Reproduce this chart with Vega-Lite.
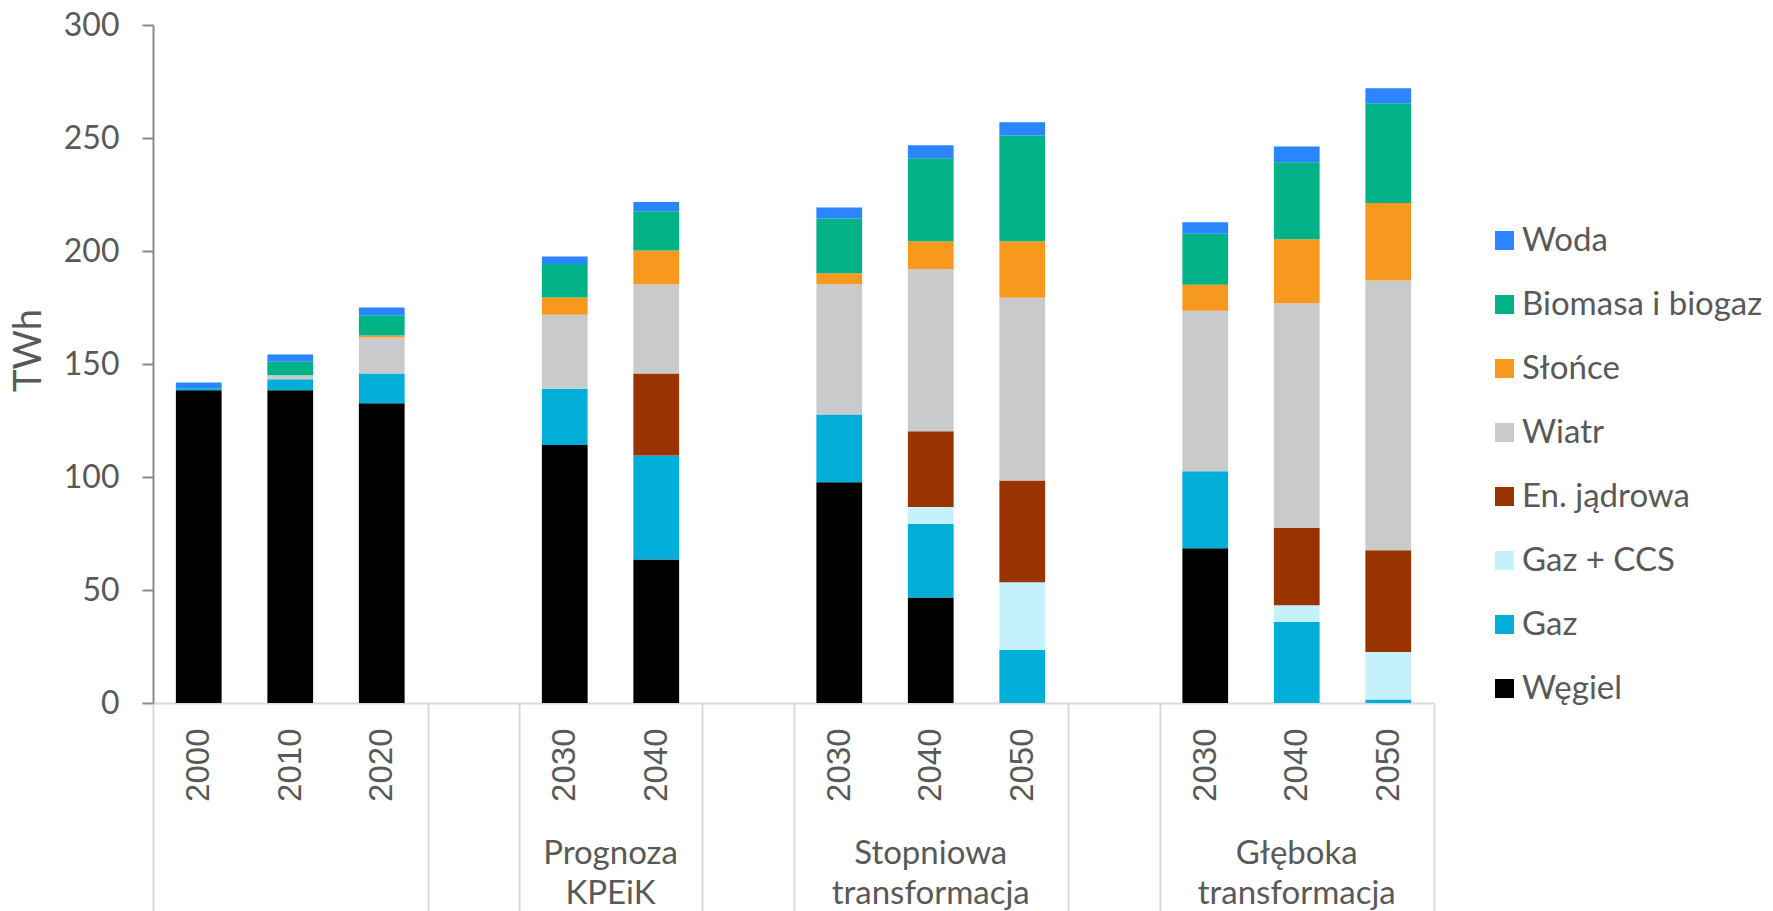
{
  "$schema": "https://vega.github.io/schema/vega-lite/v6.json",
  "width": 1281,
  "height": 678,
  "autosize": {"type": "none"},
  "padding": {"left": 153, "top": 25, "right": 339, "bottom": 208},
  "background": "white",
  "config": {
    "view": {"stroke": null},
    "font": "Lato",
    "axis": {"labelFont": "Lato", "titleFont": "Lato", "labelColor": "#595959", "titleColor": "#595959", "grid": false}
  },
  "layer": [
    {
      "data": {"values": [
        {"key": "a2000", "src": "Węgiel", "v": 138.4},
        {"key": "a2000", "src": "Gaz", "v": 0.9},
        {"key": "a2000", "src": "Woda", "v": 2.5},
        {"key": "a2010", "src": "Węgiel", "v": 138.4},
        {"key": "a2010", "src": "Gaz", "v": 4.9},
        {"key": "a2010", "src": "Wiatr", "v": 1.7},
        {"key": "a2010", "src": "Biomasa i biogaz", "v": 6.0},
        {"key": "a2010", "src": "Woda", "v": 3.2},
        {"key": "a2020", "src": "Węgiel", "v": 132.6},
        {"key": "a2020", "src": "Gaz", "v": 13.2},
        {"key": "a2020", "src": "Wiatr", "v": 15.9},
        {"key": "a2020", "src": "Słońce", "v": 0.9},
        {"key": "a2020", "src": "Biomasa i biogaz", "v": 9.0},
        {"key": "a2020", "src": "Woda", "v": 3.4},
        {"key": "b2030", "src": "Węgiel", "v": 114.2},
        {"key": "b2030", "src": "Gaz", "v": 24.9},
        {"key": "b2030", "src": "Wiatr", "v": 32.7},
        {"key": "b2030", "src": "Słońce", "v": 7.6},
        {"key": "b2030", "src": "Biomasa i biogaz", "v": 14.9},
        {"key": "b2030", "src": "Woda", "v": 3.3},
        {"key": "b2040", "src": "Węgiel", "v": 63.5},
        {"key": "b2040", "src": "Gaz", "v": 46.0},
        {"key": "b2040", "src": "En. jądrowa", "v": 36.3},
        {"key": "b2040", "src": "Wiatr", "v": 39.4},
        {"key": "b2040", "src": "Słońce", "v": 15.0},
        {"key": "b2040", "src": "Biomasa i biogaz", "v": 17.4},
        {"key": "b2040", "src": "Woda", "v": 4.1},
        {"key": "c2030", "src": "Węgiel", "v": 97.7},
        {"key": "c2030", "src": "Gaz", "v": 29.9},
        {"key": "c2030", "src": "Wiatr", "v": 57.7},
        {"key": "c2030", "src": "Słońce", "v": 4.9},
        {"key": "c2030", "src": "Biomasa i biogaz", "v": 24.2},
        {"key": "c2030", "src": "Woda", "v": 4.9},
        {"key": "c2040", "src": "Węgiel", "v": 46.7},
        {"key": "c2040", "src": "Gaz", "v": 32.6},
        {"key": "c2040", "src": "Gaz + CCS", "v": 7.4},
        {"key": "c2040", "src": "En. jądrowa", "v": 33.5},
        {"key": "c2040", "src": "Wiatr", "v": 71.8},
        {"key": "c2040", "src": "Słońce", "v": 12.3},
        {"key": "c2040", "src": "Biomasa i biogaz", "v": 36.7},
        {"key": "c2040", "src": "Woda", "v": 5.8},
        {"key": "c2050", "src": "Gaz", "v": 23.4},
        {"key": "c2050", "src": "Gaz + CCS", "v": 30.0},
        {"key": "c2050", "src": "En. jądrowa", "v": 45.1},
        {"key": "c2050", "src": "Wiatr", "v": 80.8},
        {"key": "c2050", "src": "Słońce", "v": 25.0},
        {"key": "c2050", "src": "Biomasa i biogaz", "v": 46.8},
        {"key": "c2050", "src": "Woda", "v": 5.9},
        {"key": "d2030", "src": "Węgiel", "v": 68.5},
        {"key": "d2030", "src": "Gaz", "v": 34.0},
        {"key": "d2030", "src": "Wiatr", "v": 71.1},
        {"key": "d2030", "src": "Słońce", "v": 11.5},
        {"key": "d2030", "src": "Biomasa i biogaz", "v": 22.5},
        {"key": "d2030", "src": "Woda", "v": 5.1},
        {"key": "d2040", "src": "Gaz", "v": 35.8},
        {"key": "d2040", "src": "Gaz + CCS", "v": 7.5},
        {"key": "d2040", "src": "En. jądrowa", "v": 34.2},
        {"key": "d2040", "src": "Wiatr", "v": 99.4},
        {"key": "d2040", "src": "Słońce", "v": 28.3},
        {"key": "d2040", "src": "Biomasa i biogaz", "v": 34.1},
        {"key": "d2040", "src": "Woda", "v": 6.9},
        {"key": "d2050", "src": "Gaz", "v": 1.5},
        {"key": "d2050", "src": "Gaz + CCS", "v": 21.1},
        {"key": "d2050", "src": "En. jądrowa", "v": 45.0},
        {"key": "d2050", "src": "Wiatr", "v": 119.4},
        {"key": "d2050", "src": "Słońce", "v": 34.2},
        {"key": "d2050", "src": "Biomasa i biogaz", "v": 44.2},
        {"key": "d2050", "src": "Woda", "v": 6.6}
      ]},
      "transform": [
        {"lookup": "src", "from": {"data": {"values": [
          {"src": "Węgiel", "o": 1},
          {"src": "Gaz", "o": 2},
          {"src": "Gaz + CCS", "o": 3},
          {"src": "En. jądrowa", "o": 4},
          {"src": "Wiatr", "o": 5},
          {"src": "Słońce", "o": 6},
          {"src": "Biomasa i biogaz", "o": 7},
          {"src": "Woda", "o": 8}
        ]}, "key": "src", "fields": ["o"]}}
      ],
      "mark": {"type": "bar", "width": {"band": 0.5}},
      "encoding": {
        "x": {
          "field": "key", "type": "nominal",
          "scale": {"domain": ["a2000","a2010","a2020","g1","b2030","b2040","g2","c2030","c2040","c2050","g3","d2030","d2040","d2050"], "paddingInner": 0, "paddingOuter": 0},
          "axis": {
            "title": null,
            "labelExpr": "isString(datum.value) && length(datum.value) > 2 ? slice(datum.value, -4) : ''",
            "labelAngle": 270,
            "labelFont": "Liberation Sans",
            "labelFontSize": 33,
            "labelPadding": -183,
            "labelOverlap": false,
            "tickBand": "extent",
            "tickSize": 208,
            "tickWidth": 2,
            "tickColor": {"condition": {"test": "indexof(['a2000','a2010','b2030','c2030','c2040','d2030','d2040'], datum.value) >= 0", "value": "transparent"}, "value": "#d9d9d9"},
            "domainColor": "#d9d9d9",
            "domainWidth": 2
          }
        },
        "y": {
          "field": "v", "type": "quantitative", "stack": "zero",
          "scale": {"domain": [0, 300], "nice": false},
          "axis": {
            "title": "TWh", "titleFontSize": 38, "titleFontWeight": "normal", "titleX": -124, "titleY": 325, "titleAlign": "center", "titleBaseline": "middle",
            "values": [0, 50, 100, 150, 200, 250, 300],
            "labelFontSize": 32, "labelPadding": 23,
            "tickSize": 11, "tickWidth": 2, "tickColor": "#898989",
            "domainColor": "#898989", "domainWidth": 2
          }
        },
        "color": {
          "field": "src", "type": "nominal",
          "scale": {
            "domain": ["Woda", "Biomasa i biogaz", "Słońce", "Wiatr", "En. jądrowa", "Gaz + CCS", "Gaz", "Węgiel"],
            "range": ["#2a85ff", "#00b286", "#f8991f", "#c9cacc", "#993300", "#c5f1fb", "#00aed8", "#000000"]
          },
          "legend": {
            "title": null, "orient": "none", "legendX": 1335, "legendY": 199,
            "symbolType": "square", "symbolSize": 361, "symbolStrokeWidth": 0,
            "labelFontSize": 33, "labelColor": "#595959", "labelFont": "Lato", "labelOffset": 1,
            "rowPadding": 30, "padding": 0, "labelLimit": 400
          }
        },
        "order": {"field": "o", "type": "quantitative"}
      }
    },
    {
      "data": {"values": [{"anchor": "b2030", "label": "Prognoza\nKPEiK"}]},
      "mark": {"type": "text", "dy": 161, "baseline": "alphabetic", "align": "center", "lineBreak": "\n", "lineHeight": 40, "fontSize": 33, "color": "#595959", "font": "Lato"},
      "encoding": {
        "x": {"field": "anchor", "type": "nominal", "bandPosition": 1, "axis": {"title": null}},
        "y": {"datum": 0},
        "text": {"field": "label"}
      }
    },
    {
      "data": {"values": [{"anchor": "c2040", "label": "Stopniowa\ntransformacja"}, {"anchor": "d2040", "label": "Głęboka\ntransformacja"}]},
      "mark": {"type": "text", "dy": 161, "baseline": "alphabetic", "align": "center", "lineBreak": "\n", "lineHeight": 40, "fontSize": 33, "color": "#595959", "font": "Lato"},
      "encoding": {
        "x": {"field": "anchor", "type": "nominal", "bandPosition": 0.5, "axis": {"title": null}},
        "y": {"datum": 0},
        "text": {"field": "label"}
      }
    }
  ]
}
